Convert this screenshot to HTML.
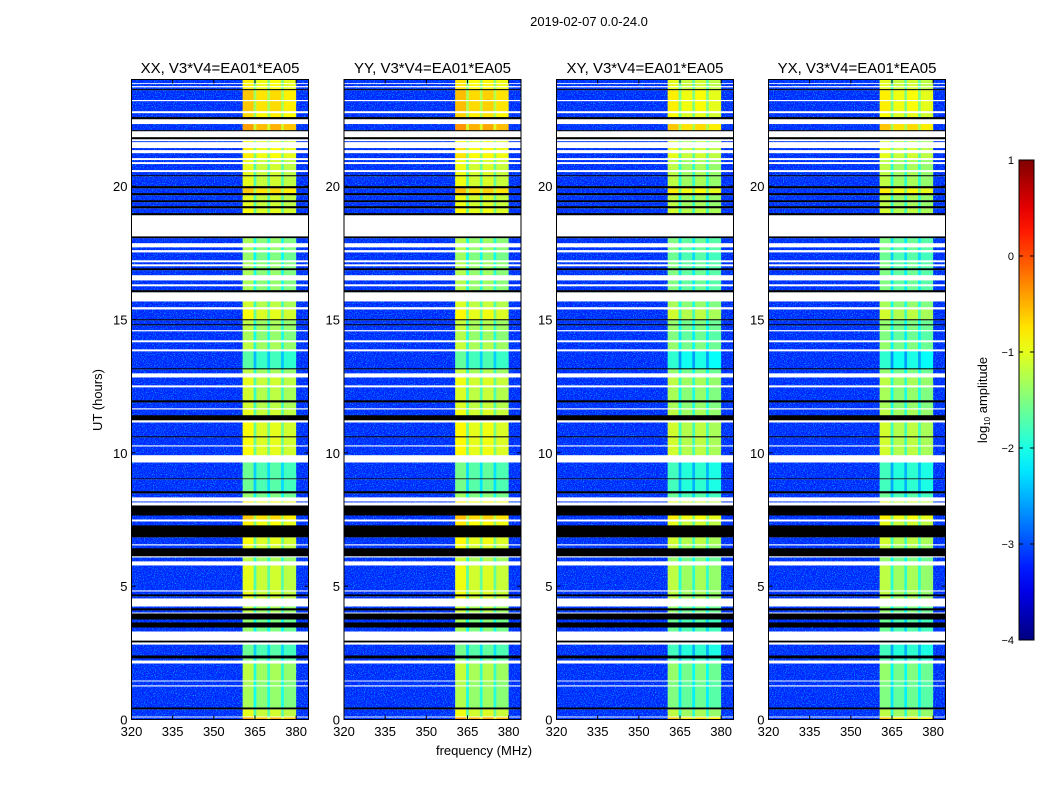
<!DOCTYPE html>
<html><head><meta charset="utf-8"><style>
body{margin:0;background:#fff;}
svg text{font-family:"Liberation Sans",sans-serif;fill:#000;}
</style></head><body>
<svg id="fig" width="1050" height="800" viewBox="0 0 1050 800" xmlns="http://www.w3.org/2000/svg">
<defs>
<filter id="noise" x="0" y="0" width="100%" height="100%">
<feTurbulence type="fractalNoise" baseFrequency="0.9" numOctaves="1" seed="3"/>
<feColorMatrix type="matrix" values="0 0 0 0 0.0  0 0 0 0 0.75  0 0 0 0 1  2.6 0 0 0 -1.3"/>
</filter>
</defs>
<rect width="1050" height="800" fill="#fff"/>
<text x="589" y="26" font-size="13" text-anchor="middle">2019-02-07 0.0-24.0</text>
<text x="0" y="0" font-size="13" text-anchor="middle" transform="translate(102,400) rotate(-90)">UT (hours)</text>
<text x="484" y="755" font-size="13" text-anchor="middle">frequency (MHz)</text>
<text x="0" y="0" font-size="13" text-anchor="middle" transform="translate(987,400) rotate(-90)">log<tspan font-size="8" dy="3">10</tspan><tspan dy="-3"> amplitude</tspan></text>
</svg>
<script>
// ---- data ----
const panelTitles = ["XX, V3*V4=EA01*EA05","YY, V3*V4=EA01*EA05","XY, V3*V4=EA01*EA05","YX, V3*V4=EA01*EA05"];
const panelBandOffset = [-0.15, -0.1, -0.35, -0.35];
const segStart = [0,0.08,0.11,0.38,0.45,1.24,1.28,1.43,1.46,2.10,2.21,2.29,2.40,2.81,2.89,2.96,3.30,3.45,3.64,3.75,3.98,4.01,4.09,4.17,4.24,4.54,4.62,4.69,4.80,4.84,5.78,5.93,6.08,6.12,6.42,6.53,6.57,6.83,7.28,7.43,7.50,7.65,8.03,8.14,8.18,8.33,8.48,8.56,9.01,9.04,9.64,9.91,10.24,10.28,10.58,10.62,11.14,11.22,11.41,11.63,11.67,11.89,11.97,12.46,12.53,12.83,12.98,13.13,13.17,13.81,13.88,14.15,14.22,14.56,14.60,14.78,14.82,14.97,15.01,15.38,15.46,15.68,16.02,16.10,16.25,16.32,16.47,16.66,16.85,16.92,17.00,17.07,17.15,17.22,17.52,17.60,17.71,17.86,18.05,18.12,18.91,18.99,19.17,19.25,19.40,19.47,19.66,19.74,19.92,20.00,20.37,20.41,20.53,20.60,20.83,20.90,20.98,21.05,21.24,21.35,21.43,21.65,21.69,21.76,21.84,22.06,22.10,22.33,22.51,22.59,22.74,22.81,23.19,23.23,23.60,23.64,23.71,23.75,23.83,23.86];
const segLevel = [-0.4,'w',-1.0,'k',-1.3,'w',-1.3,'w',-1.2,'w',-1.5,'k',-1.6,'w','k','w',-1.4,'k',-1.4,'k','w',-1.2,'k',-1.2,'w',-1.0,'k',-1.0,'w',-1.0,'w',-1.2,'w','k',-1.0,'w',-0.9,'k',-0.8,'w',-0.6,'k','w',-0.8,'w',-1.4,'k',-1.6,'k',-1.6,'w',-0.9,'w',-0.9,'k',-0.9,'w','k',-1.0,'w',-1.1,'k',-1.1,'w',-1.0,'w',-1.2,'k',-1.7,'w',-1.2,'w',-1.3,'w',-1.2,'k',-1.2,'k',-0.9,'w',-1.1,'w','k',-1.3,'w',-1.3,'w',-1.3,'k',-1.3,'w',-1.3,'w',-1.4,'w',-1.3,'w',-1.3,'k','w','k',-0.9,'k',-1.0,'k',-1.0,'k',-0.6,'k',-1.0,'k',-1.0,'w',-1.0,'w',-1.0,'w',-0.8,'w',-0.8,'w',-0.9,'w','k','w','k',-0.4,'w','k',-0.7,'w',-0.6,'w',-0.6,'k',-0.8,'w',-0.8,'w',-0.8];
const bgLevel = -3.2;
const chanLo = [320, 360.5, 364.5, 365.5, 369.5, 370.5, 374.5, 375.5, 380];
const chanHi = [360.5, 364.5, 365.5, 369.5, 370.5, 374.5, 375.5, 380, 384.5];
const chanOffset = [null, 0.15, -0.6, 0, -0.55, 0.05, -0.55, -0.05, null];
const xTicks = [320,335,350,365,380];
const yTicks = [0,5,10,15,20];
const cbTicks = [1,0,-1,-2,-3,-4];
const cbLabels = ["1","0","\u22121","\u22122","\u22123","\u22124"];

// ---- layout ----
const svg = document.getElementById('fig');
const NS = 'http://www.w3.org/2000/svg';
const panelX = [131.5, 344, 556.5, 768.5];
const PW = 177, PT = 79.5, PB = 719.5;
function xs(p, f){ return panelX[p] + (f - 320) / (384.5 - 320) * PW; }
function ys(ut){ return PB - ut / 24 * (PB - PT); }
function jet(v){
  let t = Math.max(0, Math.min(1, (v + 4) / 5));
  const c = k => Math.round(255 * Math.max(0, Math.min(1, 1.5 - Math.abs(4 * t - k))));
  return `rgb(${c(3)},${c(2)},${c(1)})`;
}
function mk(tag, attrs, parent){
  const e = document.createElementNS(NS, tag);
  for (const k in attrs) e.setAttribute(k, attrs[k]);
  (parent || svg).appendChild(e);
  return e;
}

for (let p = 0; p < 4; p++) {
  const g = mk('g', {});
  
  
  for (let i = 0; i < segStart.length; i++) {
    const u0 = segStart[i], u1 = (i + 1 < segStart.length) ? segStart[i + 1] : 24;
    const y0 = ys(u1), h = ys(u0) - ys(u1);
    const lv = segLevel[i];
    if (lv === 'w' || lv === 'k') continue;
    for (let c = 0; c < chanLo.length; c++) {
      const v = chanOffset[c] === null ? bgLevel : lv + chanOffset[c] + panelBandOffset[p];
      const r = mk('rect', {x: xs(p, chanLo[c]), y: y0, width: xs(p, chanHi[c]) - xs(p, chanLo[c]) + 0.3, height: h + 0.2, fill: jet(v)}, g);
      
      
    }
  }
  const n1 = mk('rect', {x: xs(p, 320), y: PT, width: xs(p, 360.5) - xs(p, 320), height: PB - PT, filter: 'url(#noise)'}, g);
  
  
  const n2 = mk('rect', {x: xs(p, 380), y: PT, width: xs(p, 384.5) - xs(p, 380), height: PB - PT, filter: 'url(#noise)'}, g);
  
  
  for (let i = 0; i < segStart.length; i++) {
    const lv = segLevel[i];
    if (!(lv === 'w' || lv === 'k')) continue;
    const u0 = segStart[i], u1 = (i + 1 < segStart.length) ? segStart[i + 1] : 24;
    const r = mk('rect', {x: xs(p, 320), y: ys(u1), width: PW, height: ys(u0) - ys(u1), fill: lv === 'w' ? '#fff' : '#000'}, g);
    
    
  }
  const fr = mk('rect', {x: panelX[p], y: PT, width: PW, height: PB - PT, fill: 'none', stroke: '#000', 'stroke-width': 1});
  
  
  const t = mk('text', {x: panelX[p] + PW / 2, y: 73, 'font-size': 15, 'text-anchor': 'middle'});
  t.textContent = panelTitles[p];
  
  
  xTicks.forEach(f => {
    const x = xs(p, f);
    mk('line', {x1: x, x2: x, y1: PB, y2: PB - 4, stroke: '#000'});
    mk('line', {x1: x, x2: x, y1: PT, y2: PT + 4, stroke: '#000'});
    const l = mk('text', {x: x, y: 736, 'font-size': 13, 'text-anchor': 'middle'});
    l.textContent = f;
    
    
  });
  yTicks.forEach(u => {
    const y = ys(u);
    mk('line', {x1: panelX[p], x2: panelX[p] + 4, y1: y, y2: y, stroke: '#000'});
    mk('line', {x1: panelX[p] + PW, x2: panelX[p] + PW - 4, y1: y, y2: y, stroke: '#000'});
    const l = mk('text', {x: panelX[p] - 4, y: y + 5, 'font-size': 13, 'text-anchor': 'end'});
    l.textContent = u;
    
    
  });
}

// ---- colorbar ----
const CBX = 1019, CBW = 15, CBT = 160, CBB = 640;
function cy(v){ return CBB - (v + 4) / 5 * (CBB - CBT); }
const defs = mk('defs', {});
const grad = mk('linearGradient', {id: 'jetg', x1: 0, y1: 1, x2: 0, y2: 0}, defs);
for (let i = 0; i <= 20; i++) {
  mk('stop', {offset: i / 20, 'stop-color': jet(-4 + 5 * i / 20)}, grad);
}
const cb = mk('rect', {x: CBX, y: CBT, width: CBW, height: CBB - CBT, fill: 'url(#jetg)', stroke: '#000', 'stroke-width': 1});


cbTicks.forEach((v, i) => {
  const y = cy(v);
  mk('line', {x1: CBX, x2: CBX + 4, y1: y, y2: y, stroke: '#000'});
  mk('line', {x1: CBX + CBW, x2: CBX + CBW - 4, y1: y, y2: y, stroke: '#000'});
  const l = mk('text', {x: CBX - 5, y: y + 4, 'font-size': 11, 'text-anchor': 'end'});
  l.textContent = cbLabels[i];
  
  
});
</script>
</body></html>
